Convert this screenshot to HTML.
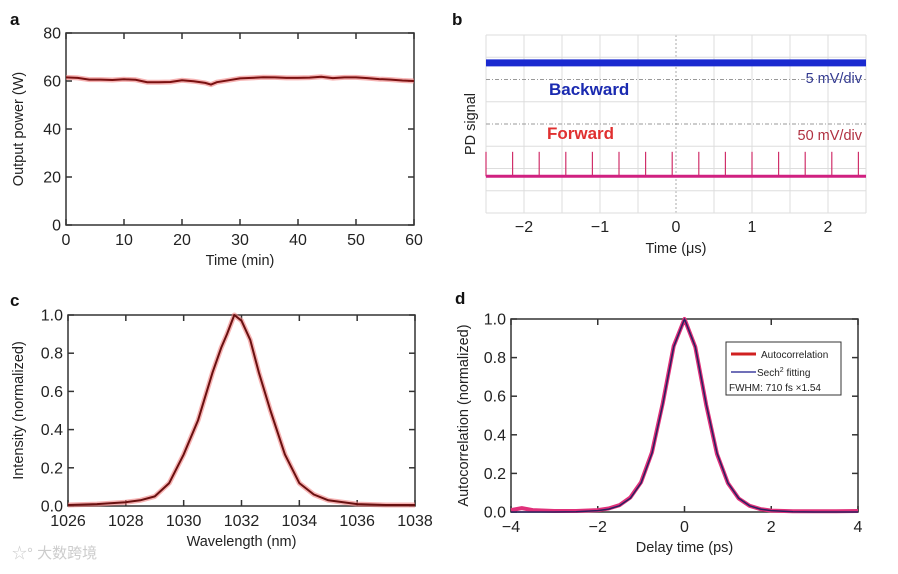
<!DOCTYPE html>
<html><head><meta charset="utf-8"><style>
body{margin:0;background:#fff;width:898px;height:569px;overflow:hidden}
svg{font-family:"Liberation Sans",Arial,sans-serif}
</style></head><body>
<svg id="s" width="898" height="569" viewBox="0 0 898 569"></svg>
<script>
// Panel a data
const aTime=[0,2,4,6,8,10,12,14,16,18,20,22,24,25,26,28,30,32,34,36,38,40,42,44,46,48,50,52,54,56,58,60];
const aPower=[61.5,61.3,60.6,60.6,60.4,60.7,60.5,59.5,59.5,59.6,60.3,59.9,59.2,58.5,59.5,60.3,61.1,61.3,61.6,61.5,61.3,61.3,61.4,61.8,61.2,61.5,61.5,61.2,60.8,60.6,60.2,60.0];
const aXTicks=[0,10,20,30,40,50,60];
const aYTicks=[0,20,40,60,80];
// Panel b data
const bXTicks=[-2,-1,0,1,2];
const bSpikes=[-2.5,-2.15,-1.8,-1.45,-1.1,-0.75,-0.4,-0.05,0.3,0.65,1.0,1.35,1.7,2.05,2.4];
const bBackwardLevel=[6.75];
const bForwardLevel=[1.65];
const bSpikeTop=[2.75];
// Panel c data
const cWave=[1026,1027,1028,1028.5,1029,1029.5,1030,1030.5,1031,1031.3,1031.5,1031.75,1032,1032.3,1032.6,1033,1033.5,1034,1034.5,1035,1036,1037,1038];
const cInt=[0.005,0.01,0.02,0.03,0.05,0.12,0.27,0.45,0.7,0.83,0.9,1.0,0.97,0.87,0.7,0.5,0.27,0.12,0.06,0.03,0.01,0.005,0.005];
const cXTicks=[1026,1028,1030,1032,1034,1036,1038];
const cYTicks=[0,0.2,0.4,0.6,0.8,1.0];
// Panel d data
const dDelay=[-4,-3.75,-3.5,-3,-2.5,-2,-1.75,-1.5,-1.25,-1,-0.75,-0.5,-0.25,0,0.25,0.5,0.75,1,1.25,1.5,1.75,2,2.5,3,3.5,4];
const dAuto=[0.01,0.02,0.01,0.005,0.005,0.01,0.018,0.035,0.075,0.155,0.31,0.565,0.86,1.0,0.855,0.555,0.3,0.15,0.07,0.032,0.015,0.007,0.004,0.004,0.004,0.005];
const dFit=[0,0,0,0,0.001,0.007,0.015,0.032,0.071,0.151,0.305,0.559,0.856,1.0,0.856,0.559,0.305,0.151,0.071,0.032,0.015,0.007,0.001,0,0,0];
const dXTicks=[-4,-2,0,2,4];
const dYTicks=[0,0.2,0.4,0.6,0.8,1.0];

const S=document.getElementById('s');
const NS='http://www.w3.org/2000/svg';
function el(t,a,p){const e=document.createElementNS(NS,t);for(const k in a)e.setAttribute(k,a[k]);(p||S).appendChild(e);return e;}
function txt(x,y,s,a){const e=el('text',Object.assign({x:x,y:y},a));e.textContent=s;return e;}
function lin(d0,d1,r0,r1){return v=>r0+(v-d0)*(r1-r0)/(d1-d0);}

function frame(name,x0,y0,x1,y1,X,Y,xt,yt,fmtY,fmtX,xtitle,ytitle,letter,lx,ly){
  const g=el('g',{});
  
  
  const r=el('rect',{x:x0,y:y0,width:x1-x0,height:y1-y0,fill:'none',stroke:'#333','stroke-width':1.5},g);
  
  xt.forEach(v=>{const x=X(v);
    el('line',{x1:x,x2:x,y1:y1,y2:y1-6,stroke:'#333','stroke-width':1.5},g);
    el('line',{x1:x,x2:x,y1:y0,y2:y0+6,stroke:'#333','stroke-width':1.5},g);
    const t=txt(x,y1+20,fmtX(v),{'text-anchor':'middle','font-size':16,fill:'#222'});g.appendChild(t);
    });
  yt.forEach(v=>{const y=Y(v);
    el('line',{x1:x0,x2:x0+6,y1:y,y2:y,stroke:'#333','stroke-width':1.5},g);
    el('line',{x1:x1,x2:x1-6,y1:y,y2:y,stroke:'#333','stroke-width':1.5},g);
    const t=txt(x0-5,y+5.5,fmtY(v),{'text-anchor':'end','font-size':16,fill:'#222'});g.appendChild(t);
    });
  const xtl=txt((x0+x1)/2,y1+40,xtitle,{'text-anchor':'middle','font-size':14.5,fill:'#222'});
  
  const ytl=txt(0,0,ytitle,{'text-anchor':'middle','font-size':14.5,fill:'#222',transform:`translate(${ytx[name]},${(y0+y1)/2}) rotate(-90)`});
  
  const L=txt(lx,ly,letter,{'font-size':17,'font-weight':'bold',fill:'#111'});
  
}
const ytx={'panel-a':23,'panel-b':475,'panel-c':23,'panel-d':468};
function path(xs,ys,X,Y){return xs.map((v,i)=>(i?'L':'M')+X(v).toFixed(1)+','+Y(ys[i]).toFixed(1)).join('');}

// Panel a
{const X=lin(0,60,66,414),Y=lin(0,80,225,33);
frame('panel-a',66,33,414,225,X,Y,aXTicks,aYTicks,v=>v,v=>v,'Time (min)','Output power (W)','a',10,25);
const gl=el('path',{d:path(aTime,aPower,X,Y),fill:'none',stroke:'#f08080','stroke-width':5,opacity:0.6});

const p=el('path',{d:path(aTime,aPower,X,Y),fill:'none',stroke:'#7a1010','stroke-width':2});
}

// Panel b
{const X=lin(-2.5,2.5,486,866),Y=lin(0,8,213,35);
const g=el('g',{});
for(let i=-2.5;i<=2.5;i+=0.5){const x=X(i);el('line',{x1:x,x2:x,y1:35,y2:213,stroke:i===0?'#aaa':'#ddd','stroke-width':1,'stroke-dasharray':i===0?'2,2':''},g);}
for(let j=0;j<=8;j++){const y=Y(j);el('line',{x1:486,x2:866,y1:y,y2:y,stroke:(j===6||j===4)?'#999':'#ddd','stroke-width':1,'stroke-dasharray':(j===6||j===4)?'4,2,1,2':''},g);}
bXTicks.forEach(v=>{const t=txt(X(v),232,v<0?'\u2212'+(-v):String(v),{'text-anchor':'middle','font-size':16,fill:'#222'});});
const xt=txt(676,253,'Time (\u03bcs)',{'text-anchor':'middle','font-size':14.5,fill:'#222'});
const yt=txt(0,0,'PD signal',{'text-anchor':'middle','font-size':14.5,fill:'#222',transform:'translate(475,124) rotate(-90)'});
const L=txt(452,25,'b',{'font-size':17,'font-weight':'bold',fill:'#111'});
const bw=el('line',{x1:486,x2:866,y1:Y(bBackwardLevel[0]),y2:Y(bBackwardLevel[0]),stroke:'#1a2ad0','stroke-width':7});

bSpikes.forEach(s=>{const sp=el('line',{x1:X(s),x2:X(s),y1:Y(bForwardLevel[0]),y2:Y(bSpikeTop[0]),stroke:'#d0306a','stroke-width':1.2});
});
const fw=el('line',{x1:486,x2:866,y1:Y(bForwardLevel[0]),y2:Y(bForwardLevel[0]),stroke:'#d02080','stroke-width':3});

const t1=txt(549,95,'Backward',{'font-size':17,'font-weight':'bold',fill:'#1a2ab0'});
const t2=txt(547,139,'Forward',{'font-size':17,'font-weight':'bold',fill:'#e03030'});
const t3=txt(862,83,'5 mV/div',{'font-size':14.5,'text-anchor':'end',fill:'#333a90'});
const t4=txt(862,140,'50 mV/div',{'font-size':14.5,'text-anchor':'end',fill:'#b03040'});}

// Panel c
{const X=lin(1026,1038,68,415),Y=lin(0,1,506,315);
frame('panel-c',68,315,415,506,X,Y,cXTicks,cYTicks,v=>v.toFixed(1),v=>v,'Wavelength (nm)','Intensity (normalized)','c',10,306);
const gl=el('path',{d:path(cWave,cInt,X,Y),fill:'none',stroke:'#f08080','stroke-width':5,opacity:0.6,'stroke-linejoin':'round'});

const p=el('path',{d:path(cWave,cInt,X,Y),fill:'none',stroke:'#6a1010','stroke-width':2,'stroke-linejoin':'round'});
}

// Panel d
{const X=lin(-4,4,511,858),Y=lin(0,1,512,319);
frame('panel-d',511,319,858,512,X,Y,dXTicks,dYTicks,v=>v.toFixed(1),v=>v<0?'\u2212'+(-v):String(v),'Delay time (ps)','Autocorrelation (normalized)','d',455,304);
const a=el('path',{d:path(dDelay,dAuto,X,Y),fill:'none',stroke:'#e0307a','stroke-width':4,'stroke-linejoin':'round'});

const f=el('path',{d:path(dDelay,dFit,X,Y),fill:'none',stroke:'#2a2060','stroke-width':1.5,'stroke-linejoin':'round'});

const lg=el('g',{});
el('rect',{x:726,y:342,width:115,height:53,fill:'#fff',stroke:'#333','stroke-width':1},lg);
el('line',{x1:731,x2:756,y1:354,y2:354,stroke:'#d02020','stroke-width':3},lg);
txt(761,358,'Autocorrelation',{'font-size':10,fill:'#222'});
el('line',{x1:731,x2:756,y1:372,y2:372,stroke:'#4040a0','stroke-width':1.5},lg);
const s2=txt(757,376,'Sech',{'font-size':10,fill:'#222'});
const sup=el('tspan',{dy:-4,'font-size':7});sup.textContent='2';s2.appendChild(sup);
const sr=el('tspan',{dy:4});sr.textContent=' fitting';s2.appendChild(sr);
txt(729,391,'FWHM: 710 fs \u00d71.54',{'font-size':10,fill:'#222'});}

// watermark
const w=txt(12,558,'\u2606\u00b0 \u5927\u6570\u8de8\u5883',{'font-size':15,fill:'#ccc','font-family':'"Liberation Sans","Noto Sans CJK SC",sans-serif'});

</script>
</body></html>
